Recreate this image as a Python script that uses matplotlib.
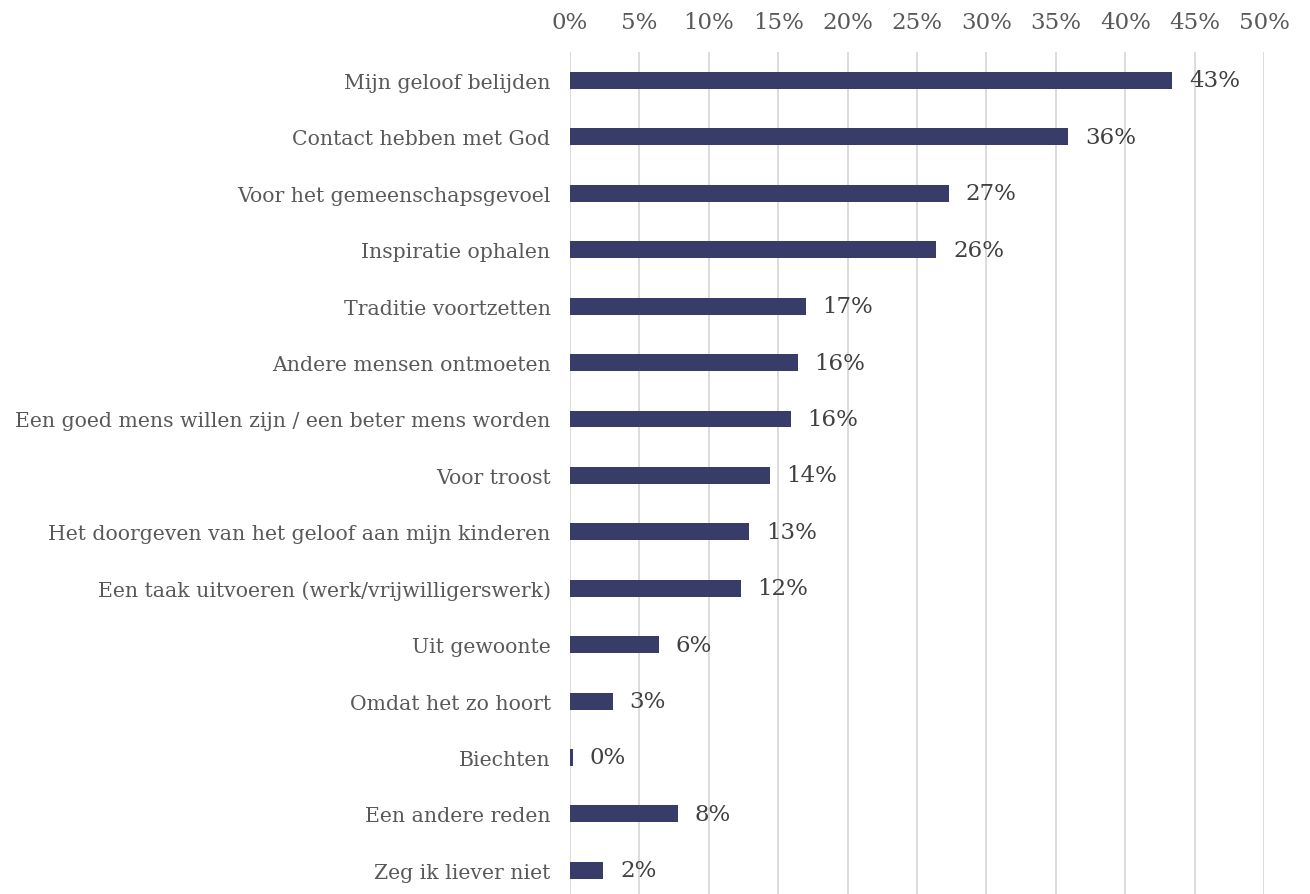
import matplotlib.pyplot as plt
from matplotlib.ticker import MultipleLocator, PercentFormatter

# ---------------------------------------------------------------------------
# Data
# ---------------------------------------------------------------------------
categories = [
    "Mijn geloof belijden",
    "Contact hebben met God",
    "Voor het gemeenschapsgevoel",
    "Inspiratie ophalen",
    "Traditie voortzetten",
    "Andere mensen ontmoeten",
    "Een goed mens willen zijn / een beter mens worden",
    "Voor troost",
    "Het doorgeven van het geloof aan mijn kinderen",
    "Een taak uitvoeren (werk/vrijwilligerswerk)",
    "Uit gewoonte",
    "Omdat het zo hoort",
    "Biechten",
    "Een andere reden",
    "Zeg ik liever niet",
]
values = [43.4, 35.9, 27.3, 26.4, 17.0, 16.4, 15.9, 14.4, 12.9, 12.3, 6.4, 3.1, 0.2, 7.8, 2.4]

# ---------------------------------------------------------------------------
# Style
# ---------------------------------------------------------------------------
BAR_COLOR = "#383c68"
GRID_COLOR = "#d9d9d9"
LABEL_COLOR = "#595959"
VALUE_COLOR = "#404040"
FS_CAT = 14.7
FS_NUM = 16.5

plt.rcParams["font.family"] = ["DejaVu Serif"]

fig = plt.figure(figsize=(13.1, 8.95), dpi=100)
ax = fig.add_axes([570 / 1310, 0.0, (1264 - 570) / 1310, 1 - 53 / 895])

y = range(len(categories))
ax.barh(y, values, height=0.30, color=BAR_COLOR, zorder=3)

for yi, v in zip(y, values):
    ax.text(v + 1.2, yi, f"{v:.0f}%", va="center", ha="left",
            fontsize=FS_NUM, color=VALUE_COLOR, zorder=4)

ax.set_xlim(0, 50)
ax.set_ylim(14.42, -0.505)
ax.xaxis.set_major_locator(MultipleLocator(5))
ax.xaxis.set_major_formatter(PercentFormatter(decimals=0))
ax.xaxis.tick_top()
ax.set_yticks(list(y))
ax.set_yticklabels(categories)

ax.tick_params(axis="x", length=0, pad=14, labelsize=FS_NUM, labelcolor=LABEL_COLOR)
ax.tick_params(axis="y", length=0, pad=14, labelsize=FS_CAT, labelcolor=LABEL_COLOR)
ax.grid(axis="x", color=GRID_COLOR, linewidth=1.3, zorder=0)
for side in ax.spines.values():
    side.set_visible(False)

fig.savefig("out.png", dpi=100)
